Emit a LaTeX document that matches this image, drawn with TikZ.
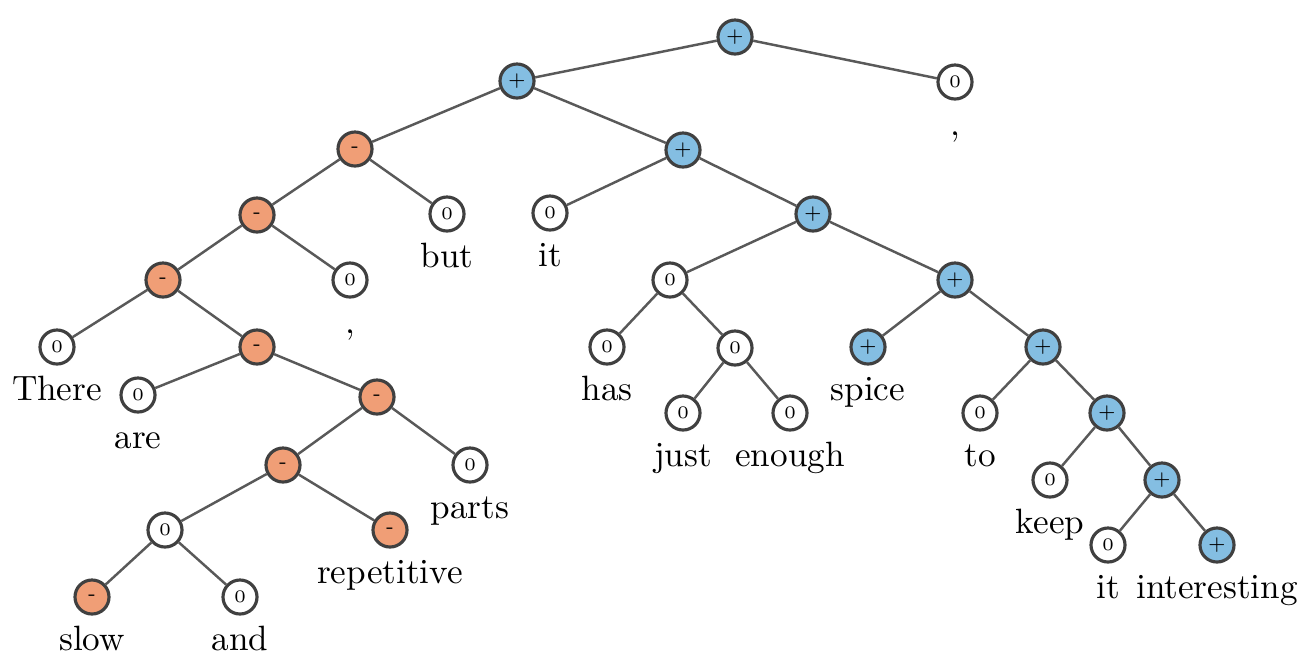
\documentclass[tikz,border=0pt]{standalone}
\usepackage{tikz}

\definecolor{posblue}{RGB}{132,190,226}
\definecolor{negorange}{RGB}{240,158,118}

\tikzset{
  sent/.style={circle, draw=black!75, line width=0.9pt, minimum size=0.34cm,
    inner sep=0pt, font=\tiny},
  posnode/.style={sent, fill=posblue},
  negnode/.style={sent, fill=negorange},
  neunode/.style={sent, fill=white},
  edge/.style={draw=black!65, line width=0.7pt},
  leaf/.style={label={[label distance=-0.5pt, font=\normalsize,
    text height=1.6ex, text depth=0.5ex]below:#1}}
}

\begin{document}
\begin{tikzpicture}[x=0.01cm, y=-0.01cm]

   \useasboundingbox (0,0) rectangle (1300,657);

   % inner nodes
   \node[posnode] (r) at (735,37) {+};
   \node[posnode] (a) at (517,81) {+};
   \node[negnode] (n1) at (355,149) {-};
   \node[posnode] (p1) at (683,150) {+};
   \node[negnode] (n2) at (257,215) {-};
   \node[posnode] (p2) at (813,214) {+};
   \node[negnode] (n3) at (163,280) {-};
   \node[neunode] (z1) at (670,280) {0};
   \node[posnode] (p3) at (955,280) {+};
   \node[negnode] (n4) at (257,347) {-};
   \node[neunode] (z2) at (735,348) {0};
   \node[posnode] (p4) at (1043,347) {+};
   \node[negnode] (n5) at (377,397) {-};
   \node[posnode] (p5) at (1107,413) {+};
   \node[negnode] (n6) at (283,465) {-};
   \node[posnode] (p6) at (1162,480) {+};
   \node[neunode] (z3) at (165,530) {0};

   % leaves with their words
   \node[neunode, leaf={{,}}] (comA) at (955,82) {0};
   \node[neunode, leaf=but] (but) at (447,214) {0};
   \node[neunode, leaf=it] (it1) at (550,213) {0};
   \node[neunode, leaf={{,}}] (comB) at (350,280) {0};
   \node[neunode, leaf=There] (there) at (57,347) {0};
   \node[neunode, leaf=has] (has) at (607,347) {0};
   \node[posnode, leaf=spice] (spice) at (868,347) {+};
   \node[neunode, leaf=are] (are) at (138,395) {0};
   \node[neunode, leaf=just] (just) at (683,413) {0};
   \node[neunode, leaf=enough] (enough) at (790,413) {0};
   \node[neunode, leaf=to] (to) at (980,413) {0};
   \node[neunode, leaf=parts] (parts) at (470,465) {0};
   \node[neunode, leaf=keep] (keep) at (1050,480) {0};
   \node[negnode, leaf=repetitive] (rep) at (390,530) {-};
   \node[neunode, leaf=it] (it2) at (1108,545) {0};
   \node[posnode, leaf=interesting] (inter) at (1217,545) {+};
   \node[negnode, leaf=slow] (slow) at (92,597) {-};
   \node[neunode, leaf=and] (and) at (240,597) {0};

   \foreach \u/\v in {r/a, r/comA, a/n1, a/p1, n1/n2, n1/but, p1/it1, p1/p2,
       n2/n3, n2/comB, p2/z1, p2/p3, n3/there, n3/n4, z1/has, z1/z2,
       p3/spice, p3/p4, n4/are, n4/n5, z2/just, z2/enough, p4/to, p4/p5,
       n5/n6, n5/parts, p5/keep, p5/p6, n6/z3, n6/rep, p6/it2, p6/inter,
       z3/slow, z3/and}
     \draw[edge] (\u) -- (\v);

\end{tikzpicture}
\end{document}
